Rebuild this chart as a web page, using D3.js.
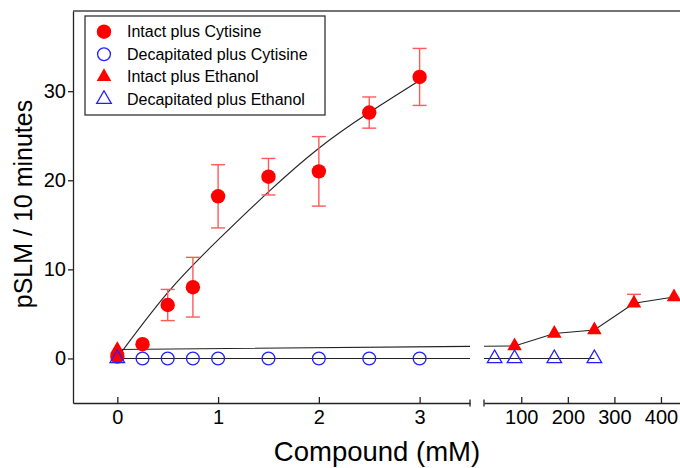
<!DOCTYPE html>
<html>
<head>
<meta charset="utf-8">
<script src="https://cdn.jsdelivr.net/npm/d3@7"></script>
<style>
  body { margin: 0; background: #fff; }
  text { font-family: "Liberation Sans", Arial, sans-serif; fill: #000; }
</style>
</head>
<body>
<div id="chart"></div>
<script>
// Data
const cytX = [0, 0.25, 0.5, 0.75, 1, 1.5, 2, 2.5, 3];
const cytIntact = [0.2, 1.6, 6.0, 8.0, 18.2, 20.4, 21.0, 27.6, 31.6];
const cytIntactErr = [0, 0, 1.75, 3.35, 3.55, 2.05, 3.9, 1.75, 3.2];
const cytDecapX = [0.25, 0.5, 0.75, 1, 1.5, 2, 2.5, 3];
const cytDecap = [0, 0, 0, 0, 0, 0, 0, 0];
// fitted curve
const fitX = [0, 0.5, 1, 1.5, 2, 2.5, 3];
const fitY = [0.1, 7.4, 13.3, 18.7, 23.6, 27.6, 31.2];

const ethX = [0, 85.6, 171, 257, 342, 428];
const ethIntact = [1.0, 1.4, 2.8, 3.2, 6.2, 6.9];
const ethIntactErr = [0, 0, 0, 0, 1.0, 0];
const ethDecapX = [0, 42.8, 85.6, 171, 257];
const ethDecap = [0, 0, 0, 0, 0];

const legendLabels = ["Intact plus Cytisine", "Decapitated plus Cytisine", "Intact plus Ethanol", "Decapitated plus Ethanol"];
const yTicks = [0, 10, 20, 30];
const xTicksLeft = [0, 1, 2, 3];
const xTicksRight = [100, 200, 300, 400];

const W = 680, H = 468;
const plotLeft = 73, plotTop = 11, plotBottom = 403;
const breakL = 470, breakR = 484;
const red = "#ff0000", blue = "#2020ff", errCol = "#ff5a5a";

const svg = d3.select("#chart").append("svg")
    .attr("width", W).attr("height", H);

const y = d3.scaleLinear().domain([-5, 39]).range([plotBottom, plotTop]);
const xL = d3.scaleLinear().domain([-0.44, 3.5]).range([plotLeft, breakL]);
const xR = d3.scaleLinear().domain([20, 460]).range([breakR, breakR + 440 * 0.4657]);
const x = v => v <= 3.5 ? xL(v) : xR(v);

// clip regions on both sides of the break
const defs = svg.append("defs");
defs.append("clipPath").attr("id", "clipL").append("rect")
    .attr("x", plotLeft).attr("y", plotTop).attr("width", breakL - plotLeft).attr("height", plotBottom - plotTop);
defs.append("clipPath").attr("id", "clipR").append("rect")
    .attr("x", breakR).attr("y", plotTop).attr("width", W - breakR).attr("height", plotBottom - plotTop);

// Axes
const fmt = d3.format("d");
const yAxis = svg.append("g")
    .attr("transform", `translate(${plotLeft},0)`)
    .call(d3.axisLeft(y).tickValues(yTicks).tickFormat(fmt).tickSizeInner(5).tickSizeOuter(0).tickPadding(2));
const xAxisL = svg.append("g")
    .attr("transform", `translate(0,${plotBottom})`)
    .call(d3.axisBottom(xL).tickValues(xTicksLeft).tickFormat(fmt).tickSizeInner(-6).tickSizeOuter(0).tickPadding(7));
const xAxisR = svg.append("g")
    .attr("transform", `translate(0,${plotBottom})`)
    .call(d3.axisBottom(xR).tickValues(xTicksRight).tickFormat(fmt).tickSizeInner(-6).tickSizeOuter(0).tickPadding(7));

[yAxis, xAxisL, xAxisR].forEach(g => {
  g.selectAll("path, line").attr("stroke", "#222").attr("stroke-width", 1.3);
  g.selectAll("text").style("font-size", "20px").style("font-family", '"Liberation Sans", Arial, sans-serif');
});

// break marks
svg.selectAll(".brk")
  .data([breakL, breakR])
  .join("line")
    .attr("class", "brk")
    .attr("x1", d => d).attr("x2", d => d)
    .attr("y1", plotBottom - 3.5).attr("y2", plotBottom + 3.5)
    .attr("stroke", "#222").attr("stroke-width", 1.3);

// top border
svg.append("line")
    .attr("x1", plotLeft).attr("x2", W).attr("y1", plotTop).attr("y2", plotTop)
    .attr("stroke", "#444").attr("stroke-width", 1.6);

// Axis titles
svg.append("text")
    .attr("transform", `translate(32,204) rotate(-90)`)
    .attr("text-anchor", "middle")
    .style("font-size", "25px")
    .text("pSLM / 10 minutes");
svg.append("text")
    .attr("x", 377).attr("y", 461)
    .attr("text-anchor", "middle")
    .style("font-size", "27.5px")
    .text("Compound (mM)");

// Lines, drawn on both sides of the break
const plot = svg.append("g");
const lineGen = d3.line().x(d => x(d[0])).y(d => y(d[1]));
const fitLine = d3.line().x(d => x(d[0])).y(d => y(d[1])).curve(d3.curveNatural);

["clipL", "clipR"].forEach(c => {
  const g = plot.append("g").attr("clip-path", `url(#${c})`);
  g.append("path")
      .attr("d", lineGen(ethDecapX.map((v, i) => [v, ethDecap[i]])))
      .attr("fill", "none").attr("stroke", "#222").attr("stroke-width", 1.1);
  g.append("path")
      .attr("d", lineGen(ethX.map((v, i) => [v, ethIntact[i]])))
      .attr("fill", "none").attr("stroke", "#222").attr("stroke-width", 1.1);
  g.append("path")
      .attr("d", fitLine(fitX.map((v, i) => [v, fitY[i]])))
      .attr("fill", "none").attr("stroke", "#222").attr("stroke-width", 1.1);
});

// Error bars
function errorBars(xs, ys, es, upOnly) {
  const data = xs.map((v, i) => ({ x: v, y: ys[i], e: es[i] })).filter(d => d.e > 0);
  const g = plot.append("g").attr("stroke", errCol).attr("stroke-width", 1.4);
  data.forEach(d => {
    const lo = upOnly ? d.y : d.y - d.e;
    g.append("line").attr("x1", x(d.x)).attr("x2", x(d.x))
        .attr("y1", y(lo)).attr("y2", y(d.y + d.e));
    g.append("line").attr("x1", x(d.x) - 7).attr("x2", x(d.x) + 7)
        .attr("y1", y(d.y + d.e)).attr("y2", y(d.y + d.e));
    if (!upOnly) {
      g.append("line").attr("x1", x(d.x) - 7).attr("x2", x(d.x) + 7)
          .attr("y1", y(lo)).attr("y2", y(lo));
    }
  });
}
errorBars(cytX, cytIntact, cytIntactErr, false);
errorBars(ethX, ethIntact, ethIntactErr, true);

// Markers
const tri = d3.symbol().type(d3.symbolTriangle).size(92);

plot.append("g").selectAll("circle")
  .data(cytX.map((v, i) => [v, cytIntact[i]]))
  .join("circle")
    .attr("cx", d => x(d[0])).attr("cy", d => y(d[1]))
    .attr("r", 7.2).attr("fill", red);

plot.append("g").selectAll("circle")
  .data(cytDecapX.map((v, i) => [v, cytDecap[i]]))
  .join("circle")
    .attr("cx", d => x(d[0])).attr("cy", d => y(d[1]))
    .attr("r", 6.4).attr("fill", "none").attr("stroke", blue).attr("stroke-width", 1.3);

plot.append("g").selectAll("path")
  .data(ethX.map((v, i) => [v, ethIntact[i]]))
  .join("path")
    .attr("d", tri)
    .attr("transform", d => `translate(${x(d[0])},${y(d[1])})`)
    .attr("fill", red);

plot.append("g").selectAll("path")
  .data(ethDecapX.map((v, i) => [v, ethDecap[i]]))
  .join("path")
    .attr("d", tri)
    .attr("transform", d => `translate(${x(d[0])},${y(d[1])})`)
    .attr("fill", "none").attr("stroke", blue).attr("stroke-width", 1.3);

// Legend
const legend = svg.append("g");
legend.append("rect")
    .attr("x", 85).attr("y", 16).attr("width", 240).attr("height", 99)
    .attr("fill", "#fff").attr("stroke", "#333").attr("stroke-width", 1.3);

const rows = legend.selectAll(".row")
  .data(legendLabels)
  .join("g")
    .attr("class", "row")
    .attr("transform", (d, i) => `translate(104,${31.7 + i * 22.5})`);

rows.each(function(d, i) {
  const g = d3.select(this);
  if (i === 0) g.append("circle").attr("r", 7.2).attr("fill", red);
  if (i === 1) g.append("circle").attr("r", 6.4).attr("fill", "none").attr("stroke", blue).attr("stroke-width", 1.3);
  if (i === 2) g.append("path").attr("d", tri).attr("fill", red);
  if (i === 3) g.append("path").attr("d", tri).attr("fill", "none").attr("stroke", blue).attr("stroke-width", 1.3);
});

rows.append("text")
    .attr("x", 23).attr("dy", "0.36em")
    .style("font-size", "16px")
    .text(d => d);
</script>
</body>
</html>
